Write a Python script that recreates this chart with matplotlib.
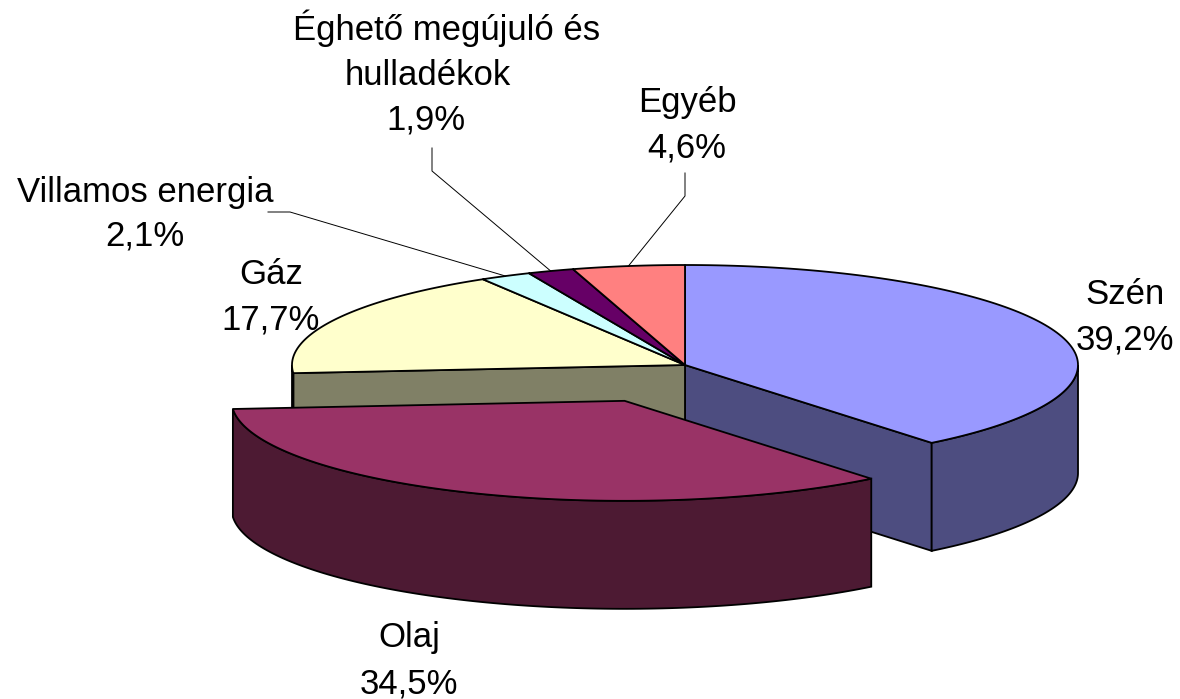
import numpy as np
import matplotlib.pyplot as plt
from matplotlib.patches import Polygon

plt.rcParams['font.family'] = ['Liberation Sans', 'DejaVu Sans']

names = ['Szén', 'Olaj', 'Gáz', 'Villamos energia', 'Éghető megújuló és\nhulladékok', 'Egyéb']
shares = [39.2, 34.5, 17.7, 2.1, 1.9, 4.6]
top_colors = ['#9999FF', '#993366', '#FFFFCC', '#CCFFFF', '#660066', '#FF8080']
side_colors = ['#4D4D80', '#4D1A33', '#808066', '#668080', '#330033', '#804040']
explode = [0.0, 0.39, 0.0, 0.0, 0.0, 0.0]

# label layout (pixel positions of each text line: x centre, baseline)
label_x = [[1125, 1125], [409, 409], [271, 271], [145, 145], [447, 428, 426], [687, 687]]
label_y = [[304, 350], [647, 693], [284, 330], [202, 246], [40, 85, 130], [112, 157]]
# leader lines for the thin slices: start points of the line before it goes to the rim
leaders = {3: [(268, 212), (290, 212)], 4: [(432, 148), (432, 171)], 5: [(685, 173), (685, 196)]}

cx, cy = 685.0, 365.0
rx, ry = 393.0, 100.0
depth = 108.0

fig = plt.figure(figsize=(11.8, 6.99), dpi=100)
ax = fig.add_axes([0, 0, 1, 1])
ax.set_xlim(0, 1180)
ax.set_ylim(699, 0)
ax.axis('off')

n = len(shares)
frac = np.array(shares) / np.sum(shares)
ends = 90.0 - 360.0 * np.cumsum(frac)
starts = np.concatenate([[90.0], ends[:-1]])


def rim(x0, y0, t1, t2, dy=0.0, n=120):
    t = np.radians(np.linspace(t1, t2, n))
    return np.column_stack([x0 + rx * np.cos(t), y0 - ry * np.sin(t) + dy])


def centre(i):
    mid = np.radians((starts[i] + ends[i]) / 2)
    return cx + explode[i] * rx * np.cos(mid), cy - explode[i] * ry * np.sin(mid)


def face(x0, y0, t):
    p = rim(x0, y0, t, t, n=1)[0]
    return [(x0, y0), tuple(p), (p[0], p[1] + depth), (x0, y0 + depth)]


def wall(x0, y0, t1, t2):
    # visible part of the outer wall: front half (angles between -180 and 0)
    a, b = max(min(t1, t2), -180.0), min(max(t1, t2), 0.0)
    if b <= a:
        return None
    top = rim(x0, y0, a, b)
    bot = rim(x0, y0, b, a, dy=depth)
    return np.vstack([top, bot])


lw = 1.3

# sides of the pie body
for i in range(n):
    if explode[i] > 0:
        continue
    x0, y0 = centre(i)
    # cut faces are only exposed next to a pulled-out slice
    for t, k, nb in [(starts[i], 1, (i - 1) % n), (ends[i], -1, (i + 1) % n)]:
        normal = np.radians(t + 90 * k)
        if explode[nb] > 0 and np.sin(normal) < 0:
            ax.add_patch(Polygon(face(x0, y0, t), closed=True, fc=side_colors[i], ec='black', lw=lw))
    w = wall(x0, y0, starts[i], ends[i])
    if w is not None:
        ax.add_patch(Polygon(w, closed=True, fc=side_colors[i], ec='black', lw=lw))

order = [i for i in range(n) if explode[i] == 0] + [i for i in range(n) if explode[i] > 0]
for i in order:
    x0, y0 = centre(i)
    if explode[i] > 0:
        w = wall(x0, y0, starts[i], ends[i])
        if w is not None:
            ax.add_patch(Polygon(w, closed=True, fc=side_colors[i], ec='black', lw=lw))
    pts = np.vstack([[x0, y0], rim(x0, y0, starts[i], ends[i])])
    ax.add_patch(Polygon(pts, closed=True, fc=top_colors[i], ec='black', lw=lw, joinstyle='round'))

# leader lines
for i, pts in leaders.items():
    x0, y0 = centre(i)
    mid = (starts[i] + ends[i]) / 2
    end = rim(x0, y0, mid, mid, n=1)[0]
    xs = [p[0] for p in pts] + [end[0]]
    ys = [p[1] for p in pts] + [end[1]]
    ax.plot(xs, ys, color='black', lw=0.7)

# labels
for i, name in enumerate(names):
    lines = name.split('\n') + [f"{shares[i]:.1f}".replace('.', ',') + '%']
    for line, x, y in zip(lines, label_x[i], label_y[i]):
        ax.text(x, y, line, ha='center', va='baseline', fontsize=25, color='black')

fig.savefig('out.png', dpi=100)
